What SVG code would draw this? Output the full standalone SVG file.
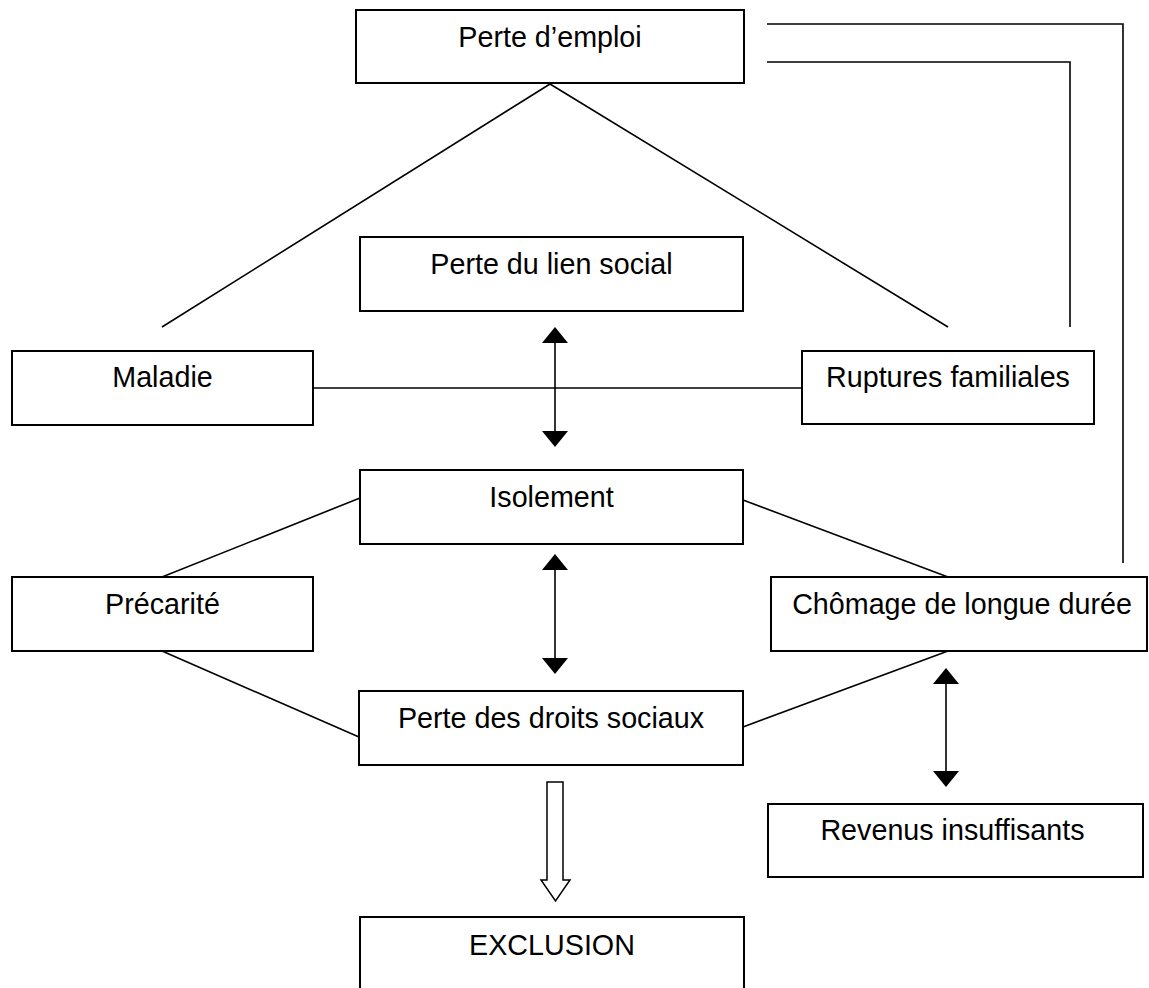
<svg xmlns="http://www.w3.org/2000/svg" width="1149" height="988" viewBox="0 0 1149 988">
<style>
.box{fill:#fff;stroke:#000;stroke-width:2}
.lbl{font-family:"Liberation Sans",Arial,sans-serif;font-size:28.7px;fill:#000;text-anchor:middle}
.ln{fill:none;stroke:#000;stroke-width:1.6}
.head{fill:#000;stroke:none}
</style>
<rect width="1149" height="988" fill="#fff"/>
<g id="connectors">
<line class="ln" x1="550" y1="84" x2="162" y2="327"/>
<line class="ln" x1="550" y1="84" x2="948" y2="327"/>
<polyline class="ln" points="767,24 1123,24 1123,563"/>
<polyline class="ln" points="767,62 1070,62 1070,327"/>
<line class="ln" x1="313" y1="388" x2="802" y2="388"/>
<line class="ln" x1="360" y1="498" x2="162" y2="577"/>
<line class="ln" x1="743" y1="500" x2="948" y2="577"/>
<line class="ln" x1="162" y1="651" x2="359" y2="737"/>
<line class="ln" x1="948" y1="651" x2="743" y2="727"/>
<g id="arrow1">
<line class="ln" x1="555" y1="340" x2="555" y2="434"/>
<polygon class="head" points="555,327 568,343 542,343"/>
<polygon class="head" points="555,447 568,431 542,431"/>
</g>
<g id="arrow2">
<line class="ln" x1="555" y1="567" x2="555" y2="661"/>
<polygon class="head" points="555,554 568,570 542,570"/>
<polygon class="head" points="555,674 568,658 542,658"/>
</g>
<g id="arrow3">
<line class="ln" x1="946" y1="681" x2="946" y2="774"/>
<polygon class="head" points="946,668 959,684 933,684"/>
<polygon class="head" points="946,787 959,771 933,771"/>
</g>
<polygon id="hollow-arrow" points="547,782 563,782 563,880 570,880 555.5,901 541,880 547,880" fill="#fff" stroke="#000" stroke-width="1.5"/>
</g>
<g id="perte-emploi"><rect class="box" x="356" y="10" width="388" height="73"/><text class="lbl" x="550" y="47">Perte d’emploi</text></g>
<g id="perte-lien"><rect class="box" x="360" y="237" width="383" height="74"/><text class="lbl" x="551.5" y="274">Perte du lien social</text></g>
<g id="maladie"><rect class="box" x="12" y="351" width="301" height="74"/><text class="lbl" x="162.5" y="387">Maladie</text></g>
<g id="ruptures"><rect class="box" x="802" y="351" width="292" height="73"/><text class="lbl" x="948" y="387">Ruptures familiales</text></g>
<g id="isolement"><rect class="box" x="360" y="470" width="383" height="74"/><text class="lbl" x="551.5" y="507">Isolement</text></g>
<g id="precarite"><rect class="box" x="12" y="577" width="301" height="74"/><text class="lbl" x="162.5" y="614">Précarité</text></g>
<g id="chomage"><rect class="box" x="771" y="577" width="376" height="74"/><text class="lbl" x="962" y="614">Chômage de longue durée</text></g>
<g id="perte-droits"><rect class="box" x="359" y="691" width="384" height="74"/><text class="lbl" x="551" y="728">Perte des droits sociaux</text></g>
<g id="revenus"><rect class="box" x="768" y="804" width="375" height="73"/><text class="lbl" x="952.5" y="840">Revenus insuffisants</text></g>
<g id="exclusion"><rect class="box" x="360" y="917" width="384" height="80"/><text class="lbl" x="552" y="955">EXCLUSION</text></g>
</svg>
